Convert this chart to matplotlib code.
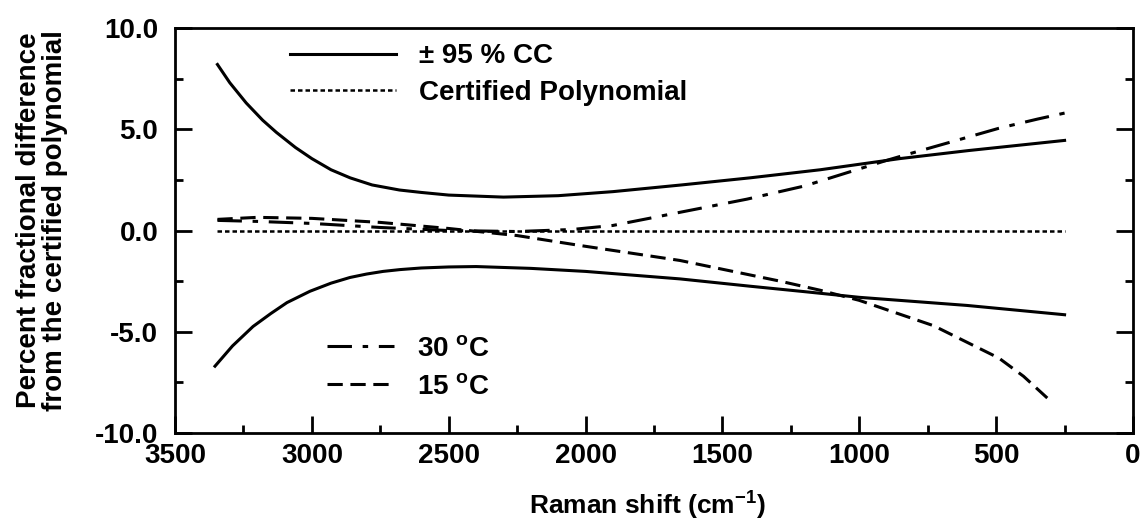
import matplotlib
matplotlib.use('Agg')
import matplotlib.pyplot as plt
from matplotlib.ticker import MultipleLocator, FormatStrFormatter
from matplotlib.lines import Line2D

plt.rcParams['font.family'] = ['Liberation Sans', 'DejaVu Sans']
plt.rcParams['font.weight'] = 'bold'
plt.rcParams['mathtext.fontset'] = 'custom'
plt.rcParams['mathtext.rm'] = 'Liberation Sans:bold'
plt.rcParams['mathtext.bf'] = 'Liberation Sans:bold'
plt.rcParams['mathtext.default'] = 'bf'
plt.rcParams['axes.unicode_minus'] = False

# Raman shift (cm-1) and percent differences
shift_up = [3345, 3300, 3240, 3180, 3130, 3060, 3000, 2930, 2860, 2780, 2680, 2600,
            2500, 2300, 2100, 1900, 1650, 1400, 1143, 853, 600, 250]
cc_upper = [8.2, 7.3, 6.3, 5.45, 4.85, 4.1, 3.55, 3.0, 2.6, 2.25, 2.0, 1.88,
            1.75, 1.65, 1.72, 1.92, 2.25, 2.6, 3.0, 3.55, 3.95, 4.45]

shift_lo = [3354, 3290, 3215, 3150, 3091, 3007, 2930, 2861, 2800, 2740, 2678, 2600,
            2500, 2400, 2200, 2000, 1655, 1400, 1200, 1000, 607, 250]
cc_lower = [-6.7, -5.7, -4.74, -4.1, -3.56, -3.0, -2.6, -2.32, -2.15, -2.02, -1.93, -1.85,
            -1.8, -1.78, -1.87, -2.02, -2.39, -2.75, -3.02, -3.3, -3.7, -4.16]

shift_cert = [3345, 250]
cert = [0.0, 0.0]

shift_30 = [3345, 3200, 3000, 2750, 2500, 2250, 2050, 1900, 1655, 1410, 1200,
            906, 853, 645, 490, 350, 250]
diff_30 = [0.5, 0.45, 0.35, 0.15, 0.0, -0.05, 0.05, 0.25, 0.9, 1.55, 2.2,
           3.44, 3.65, 4.45, 5.05, 5.5, 5.8]

shift_15 = [3345, 3200, 3000, 2750, 2500, 2250, 2020, 1655, 1290, 1143, 1000,
            729, 490, 400, 303]
diff_15 = [0.55, 0.65, 0.6, 0.4, 0.1, -0.25, -0.74, -1.48, -2.5, -2.95, -3.45,
           -4.7, -6.3, -7.2, -8.4]

fig = plt.figure(figsize=(11.41, 5.29), dpi=100)
ax = fig.add_axes([0.1534, 0.1815, 0.8396, 0.7655])

solid = dict(color='black', lw=2.2, ls='-')
dotted = dict(color='black', lw=1.8, ls=(0, (1.8, 1.2)))
dashdot = dict(color='black', lw=2.2, ls=(0, (8, 3.5, 1.8, 3.5)))
dashed = dict(color='black', lw=2.2, ls=(0, (5, 2.5)))

ax.plot(shift_up, cc_upper, **solid)
ax.plot(shift_lo, cc_lower, **solid)
ax.plot(shift_cert, cert, **dotted)
ax.plot(shift_30, diff_30, **dashdot)
ax.plot(shift_15, diff_15, **dashed)

ax.set_xlim(3500, 0)
ax.set_ylim(-10, 10)
ax.xaxis.set_major_locator(MultipleLocator(500))
ax.xaxis.set_minor_locator(MultipleLocator(250))
ax.yaxis.set_major_locator(MultipleLocator(5))
ax.yaxis.set_minor_locator(MultipleLocator(2.5))
ax.yaxis.set_major_formatter(FormatStrFormatter('%.1f'))
ax.tick_params(which='both', direction='in', top=False, right=True, width=2)
ax.tick_params(which='major', length=12, labelsize=20)
ax.tick_params(which='minor', length=6)
ax.tick_params(axis='y', which='major', pad=12)
ax.tick_params(axis='x', which='major', pad=7)
for s in ax.spines.values():
    s.set_linewidth(2)

ax.set_xlabel('Raman shift (cm$^{-1}$)', fontsize=19, fontweight='bold')
ax.xaxis.set_label_coords(0.493, -0.14)
ax.xaxis.label.set_va('top')
ax.set_ylabel('Percent fractional difference\nfrom the certified polynomial',
              fontsize=20, fontweight='bold', linespacing=1.0)
ax.yaxis.set_label_coords(-0.112, 0.525)

h1 = [Line2D([], [], **solid), Line2D([], [], **dotted)]
leg1 = ax.legend(h1, ['\u00b1 95 % CC', 'Certified Polynomial'], loc='upper left',
                 bbox_to_anchor=(0.094, 1.024), frameon=False, fontsize=20,
                 handlelength=3.8, handletextpad=0.83, labelspacing=0.37)
ax.add_artist(leg1)
h2 = [Line2D([], [], **dashdot), Line2D([], [], **dashed)]
ax.legend(h2, ['30 $^{o}$C', '15 $^{o}$C'], loc='upper left',
          bbox_to_anchor=(0.133, 0.301), frameon=False, fontsize=20,
          handlelength=2.4, handletextpad=0.83, labelspacing=0.43)

fig.savefig('out.png', dpi=100)
